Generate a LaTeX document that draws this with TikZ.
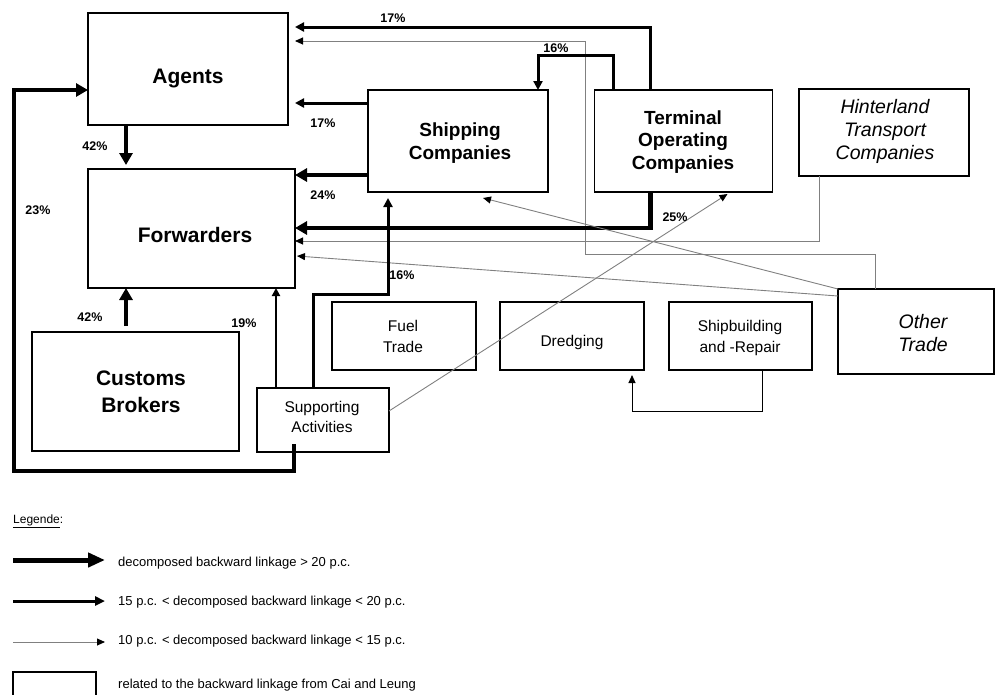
\documentclass[tikz,border=0pt]{standalone}
\usepackage{fontspec}
\setmainfont{Liberation Sans}
\usetikzlibrary{arrows.meta}
\begin{document}
\begin{tikzpicture}[x=1pt,y=-1pt,
  bigbox/.style={draw, line width=2.5pt, inner sep=0pt, outer sep=0pt},
  midbox/.style={draw, line width=1.5pt, inner sep=0pt, outer sep=0pt},
  smallbox/.style={draw, line width=1.3pt, inner sep=0pt, outer sep=0pt},
  bigtxt/.style={inner sep=0pt, align=center, font=\fontsize{21}{27}\selectfont\bfseries},
  midtxt/.style={inner sep=0pt, align=center, font=\fontsize{19}{22.5}\selectfont\bfseries},
  itxt/.style={inner sep=0pt, align=center, font=\fontsize{19.5}{23}\selectfont\itshape},
  smalltxt/.style={inner sep=0pt, align=center, font=\fontsize{15.5}{20.5}\selectfont},
  pct/.style={inner sep=0pt, font=\fontsize{12.5}{14}\selectfont\bfseries},
  legtxt/.style={inner sep=0pt, anchor=west, font=\fontsize{13}{15}\selectfont},
  strong/.style={line width=4.6pt, line join=miter, -{Triangle[length=12pt,width=13pt]}},
  medium/.style={line width=3pt, line join=miter, -{Triangle[length=9pt,width=9pt]}},
  weak/.style={line width=0.9pt, black!50, -{Triangle[length=8pt,width=7pt,color=black]}},
]
\useasboundingbox (0,0) rectangle (995,694);

% boxes
\node[bigbox, minimum width=200pt, minimum height=112pt] (agents) at (188,69) {};
\node[bigbox, minimum width=207pt, minimum height=119pt] (forwarders) at (191.5,228.5) {};
\node[bigbox, minimum width=207pt, minimum height=119pt] (customs) at (135.5,391.5) {};
\node[midbox, minimum width=180pt, minimum height=102pt] (shipping) at (458,141) {};
\node[midbox, minimum width=178pt, minimum height=102pt] (terminal) at (683.5,141) {};
\node[midbox, minimum width=170pt, minimum height=87pt] (hinterland) at (884,132.5) {};
\node[midbox, minimum width=156pt, minimum height=85pt] (other) at (916,331.5) {};
\node[smallbox, minimum width=132pt, minimum height=64pt] (supporting) at (323,420) {};
\node[smallbox, minimum width=144pt, minimum height=68pt] (fuel) at (404,336) {};
\node[smallbox, minimum width=144pt, minimum height=68pt] (dredging) at (572,336) {};
\node[smallbox, minimum width=143pt, minimum height=68pt] (shipbuilding) at (740.5,336) {};

% box texts
\node[bigtxt] (agentsT) at (188,78) {Agents};
\node[bigtxt] (forwardersT) at (195,234.5) {Forwarders};
\node[bigtxt] (customsT) at (141,392) {Customs\\Brokers};
\node[midtxt] (shippingT) at (460,143) {Shipping\\Companies};
\node[midtxt] (terminalT) at (683,142) {Terminal\\Operating\\Companies};
\node[itxt] (hinterlandT) at (885,131) {Hinterland\\Transport\\Companies};
\node[itxt] (otherT) at (923,333) {Other\\Trade};
\node[smalltxt] (supportingT) at (322,417) {Supporting\\Activities};
\node[smalltxt] (fuelT) at (403,336.5) {Fuel\\Trade};
\node[smalltxt] (dredgingT) at (572,342) {Dredging};
\node[smalltxt] (shipbuildingT) at (740,338) {Shipbuilding\\and -Repair};

% connectors
\draw[medium] ([xshift=56pt]terminal.north west) |- ([xshift=7pt,yshift=-14pt]agents.north east);
\draw[weak] ([xshift=37pt]other.north west) |- (585,254) |- ([xshift=7pt,yshift=-28pt]agents.north east);
\draw[medium] ([xshift=19pt]terminal.north west) |- (538,55) -- ([xshift=-10pt]shipping.north east);
\draw[medium] ([yshift=-13pt]shipping.north west) -- ([xshift=7pt,yshift=-90pt]agents.north east);
\draw[strong] ([xshift=38pt]agents.south west) -- ([xshift=38pt,yshift=4pt]forwarders.north west);
\draw[strong] ([yshift=17pt]shipping.south west) -- ([yshift=-6pt]forwarders.north east);
\draw[strong] ([xshift=56pt]terminal.south west) |- ([yshift=-59pt]forwarders.north east);
\draw[weak] ([xshift=20pt]hinterland.south west) |- ([yshift=-72pt]forwarders.north east);
\draw[weak] ([yshift=-7pt]other.north west) -- ([xshift=2pt,yshift=-87pt]forwarders.north east);
\draw[weak] (other.north west) -- ([xshift=115pt,yshift=-6pt]shipping.south west);
\draw[weak] ([yshift=9pt]supporting.east) -- ([xshift=133pt,yshift=-2pt]terminal.south west);
\draw[medium, line width=2.4pt, -{Triangle[length=8pt,width=8pt]}] ([xshift=19pt]supporting.north west) -- ([xshift=188pt]forwarders.south west);
\draw[medium] ([xshift=56pt]supporting.north west) |- (388,294) -- ([xshift=20pt,yshift=-6pt]shipping.south west);
\draw[strong] ([xshift=94pt,yshift=6pt]customs.north west) -- ([xshift=38pt]forwarders.south west);
\draw[strong] ([xshift=37pt,yshift=8pt]supporting.south west) -- (294,471) -| (14,90) -- ([yshift=-77pt]agents.north west);
\draw[line width=1pt, -{Triangle[length=8pt,width=7pt]}] ([xshift=93pt]shipbuilding.south west) |- (632,411) -- ([xshift=132pt,yshift=-5pt]dredging.south west);

% percentages
\node[pct] (p1) at (393,18) {17\%};
\node[pct] (p2) at (556,48) {16\%};
\node[pct] (p3) at (323,123) {17\%};
\node[pct] (p4) at (95,146) {42\%};
\node[pct] (p5) at (323,195) {24\%};
\node[pct] (p6) at (675,217) {25\%};
\node[pct] (p7) at (38,210) {23\%};
\node[pct] (p8) at (402,275) {16\%};
\node[pct] (p9) at (90,317) {42\%};
\node[pct] (p10) at (244,323) {19\%};

% legend
\node[legtxt, font=\fontsize{12}{14}\selectfont] (legende) at (13,521) {\underline{Legende}:};
\coordinate (l1a) at (13,560); \coordinate (l1b) at (105,560);
\coordinate (l2a) at (13,601); \coordinate (l2b) at (105,601);
\coordinate (l3a) at (13,642); \coordinate (l3b) at (105,642);
\draw[line width=5pt, -{Triangle[length=17pt,width=14pt]}] (l1a) -- (l1b);
\draw[line width=3pt, -{Triangle[length=10pt,width=9pt]}] (l2a) -- (l2b);
\draw[weak] (l3a) -- (l3b);
\node[legtxt] (lt1) at (118,563) {decomposed backward linkage > 20 p.c.};
\node[legtxt] (lt2) at (118,602) {15 p.c. < decomposed backward linkage < 20 p.c.};
\node[legtxt] (lt3) at (118,641) {10 p.c. < decomposed backward linkage < 15 p.c.};
\draw[line width=1.2pt] (13,672) rectangle (96,700);
\node[legtxt] (lt4) at (118,685) {related to the backward linkage from Cai and Leung};
\end{tikzpicture}
\end{document}
